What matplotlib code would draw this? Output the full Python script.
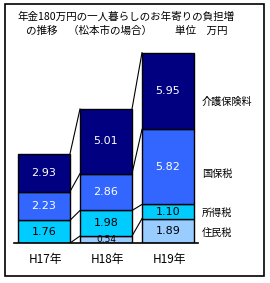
import matplotlib.pyplot as plt
from matplotlib.patches import Rectangle

plt.rcParams['font.family'] = ['Noto Sans CJK JP', 'DejaVu Sans']

years = ['H17年', 'H18年', 'H19年']
series = ['住民税', '所得税', '国保税', '介護保険料']
juminzei = [0.0, 0.54, 1.89]
shotokuzei = [1.76, 1.98, 1.10]
kokuhozei = [2.23, 2.86, 5.82]
kaigo = [2.93, 5.01, 5.95]
colors = ['#99ccff', '#00ccff', '#3366ff', '#000080']
text_colors = ['black', 'black', 'white', 'white']

W, H = 270, 283
fig = plt.figure(figsize=(W / 100, H / 100), dpi=100)

# outer frame
fig.patches.append(Rectangle((5 / W, 1 - 276 / H), 259 / W, 272 / H,
                             transform=fig.transFigure, fill=False,
                             edgecolor='black', linewidth=1.2))

# axes placed in pixel units: baseline at y=243, bar centres at 44/106/168
ax = fig.add_axes([14 / W, 40 / H, 184 / W, 193.5 / H])
ax.set_xlim(-30 / 62, 154 / 62)
ax.set_ylim(0, 15)
width = 52 / 62

data = [juminzei, shotokuzei, kokuhozei, kaigo]
x = range(len(years))
bottoms = [0.0] * len(years)
tops_per_level = []
for vals, col, tc in zip(data, colors, text_colors):
    ax.bar(x, vals, width, bottom=bottoms, color=col, edgecolor='black', linewidth=1)
    for i, v in enumerate(vals):
        if v > 0:
            fs = 6.5 if v < 0.8 else 8
            ax.text(i, bottoms[i] + v / 2, f'{v:.2f}', ha='center', va='center',
                    color=tc, fontsize=fs, family='DejaVu Sans')
    bottoms = [b + v for b, v in zip(bottoms, vals)]
    tops_per_level.append(list(bottoms))

# connector lines between bars
for tops in tops_per_level:
    for i in range(len(years) - 1):
        ax.plot([i + width / 2, i + 1 - width / 2], [tops[i], tops[i + 1]],
                color='black', linewidth=0.8)

for s in ['top', 'right', 'left']:
    ax.spines[s].set_visible(False)
ax.spines['bottom'].set_linewidth(1.2)
ax.set_xticks([])
ax.set_yticks([])

for i, y in enumerate(years):
    fig.text((45 + 62 * i) / W, 1 - 260 / H, y, ha='center', va='center', fontsize=8.5)

label_y = [233, 213, 174, 102]
for s, yy in zip(series, label_y):
    fig.text(202 / W, 1 - yy / H, s, ha='left', va='center', fontsize=7.3)

fig.text(17 / W, 1 - 17 / H, '年金180万円の一人暮らしのお年寄りの負担増',
         ha='left', va='center', fontsize=7.6)
fig.text(26 / W, 1 - 31 / H, 'の推移　（松本市の場合）',
         ha='left', va='center', fontsize=7.6)
fig.text(175 / W, 1 - 31 / H, '単位　万円',
         ha='left', va='center', fontsize=7.6)

fig.savefig('out.png', dpi=100)
